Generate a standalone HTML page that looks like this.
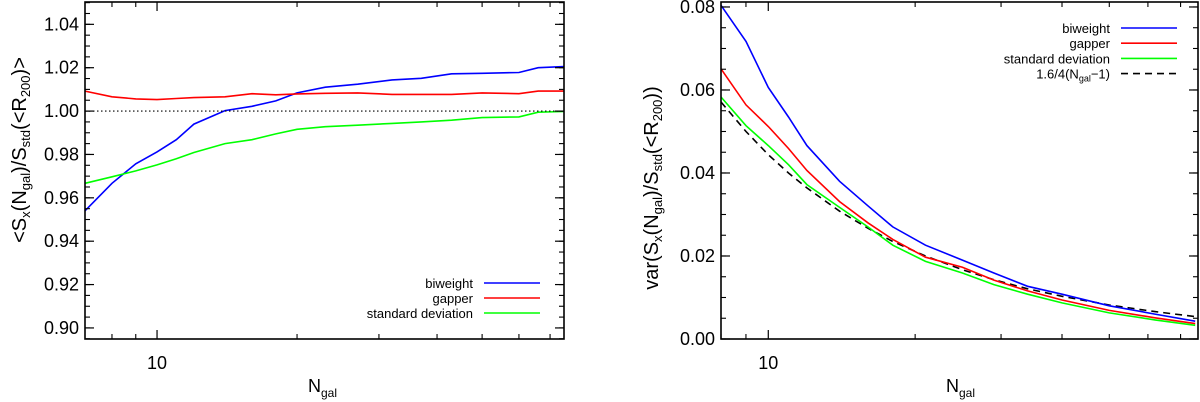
<!DOCTYPE html>
<html><head><meta charset="utf-8"><style>
html,body{margin:0;padding:0;background:#fff;}
svg{display:block;font-family:"Liberation Sans",sans-serif;}
</style></head><body>
<svg id="chart" width="1200" height="402" viewBox="0 0 1200 402"></svg>
<script>
const NS="http://www.w3.org/2000/svg";
// Left panel data
const leftN=[7,8,9,10,11,12,14,16,18,20,23,27,32,37,43,50,60,66,75];
const leftBiweight=[0.954,0.9667,0.9757,0.9812,0.9868,0.994,1.0002,1.0022,1.0047,1.0084,1.011,1.0124,1.0144,1.0151,1.0172,1.0174,1.0178,1.020,1.0205];
const leftGapper=[1.0092,1.0066,1.0056,1.0053,1.0058,1.0062,1.0066,1.008,1.0075,1.0079,1.0082,1.0084,1.0077,1.0077,1.0077,1.0084,1.008,1.0092,1.0092];
const leftStd=[0.9667,0.9697,0.9724,0.9752,0.978,0.9809,0.985,0.9868,0.9895,0.9916,0.9928,0.9935,0.9943,0.995,0.9958,0.997,0.9973,0.9995,0.9998];
const leftYTicks=["0.90","0.92","0.94","0.96","0.98","1.00","1.02","1.04"];
// Right panel data
const rightN=[8,9,10,11,12,14,16,18,21,25,29,34,40,50,62,75];
const rightBiweight=[0.0804,0.0717,0.0606,0.0535,0.0466,0.038,0.0321,0.027,0.0226,0.019,0.0159,0.0127,0.0108,0.008,0.006,0.0043];
const rightGapper=[0.0651,0.0564,0.0512,0.0459,0.0406,0.0331,0.028,0.024,0.0197,0.0173,0.0142,0.0116,0.0094,0.0069,0.0051,0.0037];
const rightStd=[0.0583,0.0514,0.0466,0.042,0.0372,0.0317,0.027,0.0226,0.0187,0.0159,0.0131,0.0108,0.0087,0.0063,0.0046,0.0033];
const rightModel=[0.0571,0.05,0.0444,0.04,0.0364,0.0308,0.0267,0.0235,0.02,0.0167,0.0143,0.0121,0.0103,0.0082,0.0066,0.0054];
const rightYTicks=["0.00","0.02","0.04","0.06","0.08"];
const xMinorTicks=[8,9,20,30,40,50,60,70];

const svg=document.getElementById('chart');
function el(tag,attrs,parent){const e=document.createElementNS(NS,tag);for(const k in attrs)e.setAttribute(k,attrs[k]);(parent||svg).appendChild(e);return e;}

function panel(cfg){
  const g=el('g',{});
  
  
  const {x0,x1,y0,y1,nmin,nmax,vmin,vmax}=cfg;
  const X=n=>x0+(Math.log10(n)-Math.log10(nmin))/(Math.log10(nmax)-Math.log10(nmin))*(x1-x0);
  const Y=v=>y1-(v-vmin)/(vmax-vmin)*(y1-y0);
  cfg.series.forEach(s=>{
    const d=s.ys.map((v,i)=>(i?'L':'M')+X(s.xs[i]).toFixed(1)+','+Y(v).toFixed(1)).join('');
    const p=el('path',{d:d,fill:'none',stroke:s.color,'stroke-width':1.6,'stroke-dasharray':s.dash||'none'},g);
    
    
  });
  if(cfg.refLine!==undefined){
    const l=el('line',{x1:x0,x2:x1,y1:Y(cfg.refLine),y2:Y(cfg.refLine),stroke:'#000','stroke-width':1.2,'stroke-dasharray':'1.5,2.5'},g);
    
    
  }
  const fr=el('rect',{x:x0,y:y0,width:x1-x0,height:y1-y0,fill:'none',stroke:'#000','stroke-width':1.6},g);
  
  
  cfg.yTicks.forEach(t=>{
    const v=parseFloat(t),y=Y(v);
    el('line',{x1:x0,x2:x0+9,y1:y,y2:y,stroke:'#000','stroke-width':1.2},g);
    el('line',{x1:x1,x2:x1-9,y1:y,y2:y,stroke:'#000','stroke-width':1.2},g);
    const tx=el('text',{x:x0-6,y:y+6,'text-anchor':'end','font-size':18},g);
    tx.textContent=t;
    
    
  });
  for(let v=cfg.minorStart;v<=vmax+1e-9;v+=cfg.minorStep){
    const y=Y(v);if(y<y0||y>y1)continue;
    el('line',{x1:x0,x2:x0+5,y1:y,y2:y,stroke:'#000','stroke-width':1.1},g);
    el('line',{x1:x1,x2:x1-5,y1:y,y2:y,stroke:'#000','stroke-width':1.1},g);
  }
  xMinorTicks.forEach(n=>{const x=X(n);
    el('line',{x1:x,x2:x,y1:y1,y2:y1-5,stroke:'#000','stroke-width':1.1},g);
    el('line',{x1:x,x2:x,y1:y0,y2:y0+5,stroke:'#000','stroke-width':1.1},g);});
  const x10=X(10);
  el('line',{x1:x10,x2:x10,y1:y1,y2:y1-9,stroke:'#000','stroke-width':1.2},g);
  el('line',{x1:x10,x2:x10,y1:y0,y2:y0+9,stroke:'#000','stroke-width':1.2},g);
  const xl=el('text',{x:x10,y:369,'text-anchor':'middle','font-size':18},g);
  xl.textContent='10';
  
  
  const xt=el('text',{x:cfg.xTitleX,y:392,'font-size':18},g);
  xt.innerHTML='N<tspan font-size="12" dy="5">gal</tspan>';
  
  
  const yt=el('text',{x:0,y:0,'text-anchor':'middle','font-size':20,transform:`translate(${cfg.yTitleX},${cfg.yTitleY}) rotate(-90)`},g);
  yt.innerHTML=cfg.yTitle;
  
  
  cfg.legend.forEach((L,i)=>{
    const ly=cfg.legY+i*cfg.legStep;
    const lg=el('g',{},g);
    
    
    const t=el('text',{x:cfg.legTextX,y:ly+5,'text-anchor':'end','font-size':13},lg);
    t.innerHTML=L.label;
    el('line',{x1:cfg.legLineX1,x2:cfg.legLineX2,y1:ly,y2:ly,stroke:L.color,'stroke-width':1.6,'stroke-dasharray':L.dash||'none'},lg);
  });
}

panel({name:'left-panel',x0:85,x1:564,y0:2,y1:339,nmin:7,nmax:75,vmin:0.8949,vmax:1.0503,
  series:[{id:'left-biweight-line',xs:leftN,ys:leftBiweight,color:'#0000ff'},
          {id:'left-gapper-line',xs:leftN,ys:leftGapper,color:'#ff0000'},
          {id:'left-std-line',xs:leftN,ys:leftStd,color:'#00ff00'}],
  refLine:1.0,yTicks:leftYTicks,minorStart:0.895,minorStep:0.005,xTitleX:308,
  yTitleX:26,yTitleY:150,
  yTitle:'&lt;S<tspan font-size="13" dy="4">x</tspan><tspan dy="-4">(N</tspan><tspan font-size="13" dy="4">gal</tspan><tspan dy="-4">)/S</tspan><tspan font-size="13" dy="4">std</tspan><tspan dy="-4">(&lt;R</tspan><tspan font-size="13" dy="4">200</tspan><tspan dy="-4">)&gt;</tspan>',
  legend:[{label:'biweight',color:'#0000ff'},{label:'gapper',color:'#ff0000'},{label:'standard deviation',color:'#00ff00'}],
  legY:283,legStep:15,legTextX:473,legLineX1:484,legLineX2:540});

panel({name:'right-panel',x0:721,x1:1198,y0:2,y1:339,nmin:8,nmax:76,vmin:0,vmax:0.0812,
  series:[{id:'right-model-line',xs:rightN,ys:rightModel,color:'#000',dash:'7,5'},
          {id:'right-biweight-line',xs:rightN,ys:rightBiweight,color:'#0000ff'},
          {id:'right-gapper-line',xs:rightN,ys:rightGapper,color:'#ff0000'},
          {id:'right-std-line',xs:rightN,ys:rightStd,color:'#00ff00'}],
  yTicks:rightYTicks,minorStart:0,minorStep:0.005,xTitleX:946,
  yTitleX:658,yTitleY:188,
  yTitle:'var(S<tspan font-size="13" dy="4">x</tspan><tspan dy="-4">(N</tspan><tspan font-size="13" dy="4">gal</tspan><tspan dy="-4">)/S</tspan><tspan font-size="13" dy="4">std</tspan><tspan dy="-4">(&lt;R</tspan><tspan font-size="13" dy="4">200</tspan><tspan dy="-4">))</tspan>',
  legend:[{label:'biweight',color:'#0000ff'},{label:'gapper',color:'#ff0000'},{label:'standard deviation',color:'#00ff00'},
          {label:'1.6/4(N<tspan font-size="9" dy="3">gal</tspan><tspan dy="-3">−1)</tspan>',color:'#000',dash:'7,5'}],
  legY:28,legStep:15.2,legTextX:1110,legLineX1:1121,legLineX2:1177});
</script>
</body></html>
